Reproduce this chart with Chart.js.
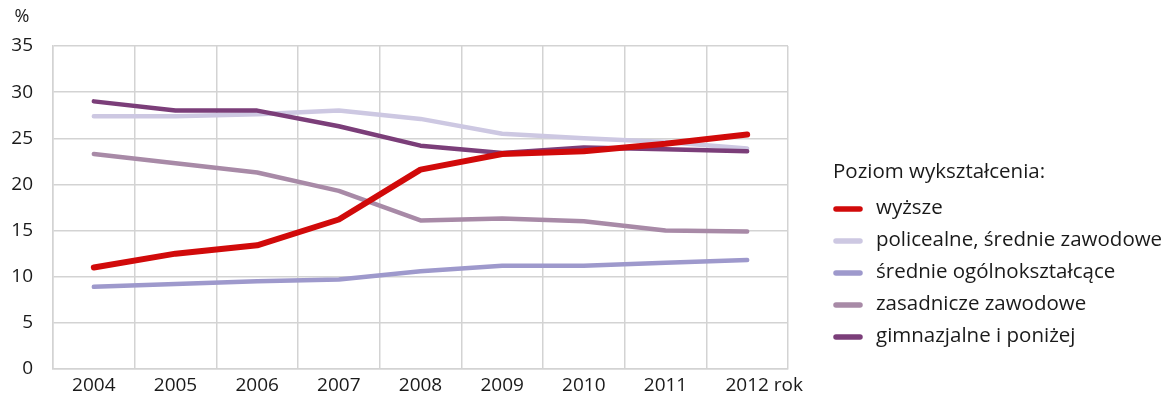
<!DOCTYPE html>
<html lang="pl">
<head>
<meta charset="utf-8">
<title>Poziom wykształcenia</title>
<script src="https://cdn.jsdelivr.net/npm/chart.js@4/dist/chart.umd.min.js"></script>
<style>
  html, body { margin: 0; padding: 0; background: #ffffff; }
  #wrap { position: relative; width: 1171px; height: 408px; }
</style>
</head>
<body>
<div id="wrap"><canvas id="chart"></canvas></div>
<script>
// Lata i udział (%) według poziomu wykształcenia
const years = ['2004', '2005', '2006', '2007', '2008', '2009', '2010', '2011', '2012'];
const wyzsze        = [11.0, 12.5, 13.4, 16.2, 21.6, 23.3, 23.6, 24.4, 25.4];
const policealne    = [27.4, 27.4, 27.6, 28.0, 27.1, 25.5, 25.0, 24.6, 23.9];
const srednieOgolne = [8.9, 9.2, 9.5, 9.7, 10.6, 11.2, 11.2, 11.5, 11.8];
const zasadnicze    = [23.3, 22.3, 21.3, 19.3, 16.1, 16.3, 16.0, 15.0, 14.9];
const gimnazjalne   = [29.0, 28.0, 28.0, 26.3, 24.2, 23.4, 24.0, 23.8, 23.6];
const yTicks = [0, 5, 10, 15, 20, 25, 30, 35];

const FONT = '"Open Sans", "DejaVu Sans", sans-serif';
const TEXT = '#1a1a1a';
const TICK_SIZE = 19;

function series(label, data, color, width, order) {
  return {
    label, data, order,
    borderColor: color,
    backgroundColor: color,
    borderWidth: width,
    borderCapStyle: 'round',
    borderJoinStyle: 'round',
    pointRadius: 0,
    pointHoverRadius: 0,
    tension: 0,
    fill: false
  };
}

const datasets = [
  series('wyższe', wyzsze, '#d10a0a', 6, 0),
  series('policealne, średnie zawodowe', policealne, '#cdc8e2', 4.5, 4),
  series('średnie ogólnokształcące', srednieOgolne, '#9e99cc', 4.5, 3),
  series('zasadnicze zawodowe', zasadnicze, '#a88aa7', 4.5, 2),
  series('gimnazjalne i poniżej', gimnazjalne, '#7b3e79', 4.5, 1)
];

// Legenda, jednostka osi Y i opis osi X rysowane na płótnie
const extras = {
  id: 'extras',
  afterDraw(chart) {
    const ctx = chart.ctx;
    ctx.save();
    ctx.fillStyle = TEXT;
    ctx.font = '18px ' + FONT;
    ctx.textBaseline = 'middle';
    ctx.textAlign = 'center';
    ctx.fillText('%', 22, 17);

    // "rok" za ostatnią etykietą osi X
    const xs = chart.scales.x;
    const lastX = xs.getPixelForValue(years.length - 1);
    ctx.font = TICK_SIZE + 'px ' + FONT;
    const w = ctx.measureText(years[years.length - 1]).width;
    ctx.textAlign = 'left';
    ctx.fillText(' rok', lastX + w / 2, 386);

    // legenda
    const lx = 833;
    ctx.font = '20.5px ' + FONT;
    ctx.fillText('Poziom wykształcenia:', lx, 172);
    chart.data.datasets.forEach((ds, i) => {
      const y = 209 + i * 32;
      ctx.strokeStyle = ds.borderColor;
      ctx.lineWidth = 5.5;
      ctx.lineCap = 'round';
      ctx.beginPath();
      ctx.moveTo(lx + 3, y);
      ctx.lineTo(lx + 27, y);
      ctx.stroke();
      ctx.fillText(ds.label, lx + 43, y - 1);
    });
    ctx.restore();
  }
};

new Chart(document.getElementById('chart'), {
  type: 'line',
  data: { labels: years, datasets },
  plugins: [extras],
  options: {
    responsive: true,
    maintainAspectRatio: false,
    animation: false,
    layout: { padding: { left: 0, top: 46, right: 383, bottom: 0 } },
    plugins: { legend: { display: false }, tooltip: { enabled: false } },
    scales: {
      x: {
        type: 'category',
        offset: true,
        grid: { offset: true, color: '#d3d3d3', lineWidth: 1.5, drawTicks: false },
        border: { color: '#d3d3d3', width: 1.5 },
        ticks: { color: TEXT, font: { family: FONT, size: TICK_SIZE }, padding: 5, maxRotation: 0, autoSkip: false },
        afterFit(s) { s.height = 39; }
      },
      y: {
        min: 0, max: 35,
        afterBuildTicks(s) { s.ticks = yTicks.map(v => ({ value: v })); },
        grid: { color: '#d3d3d3', lineWidth: 1.5, drawTicks: false },
        border: { color: '#d3d3d3', width: 1.5 },
        ticks: { color: TEXT, font: { family: FONT, size: TICK_SIZE }, padding: 20 },
        afterFit(s) { s.width = 53; }
      }
    }
  }
});
</script>
</body>
</html>
